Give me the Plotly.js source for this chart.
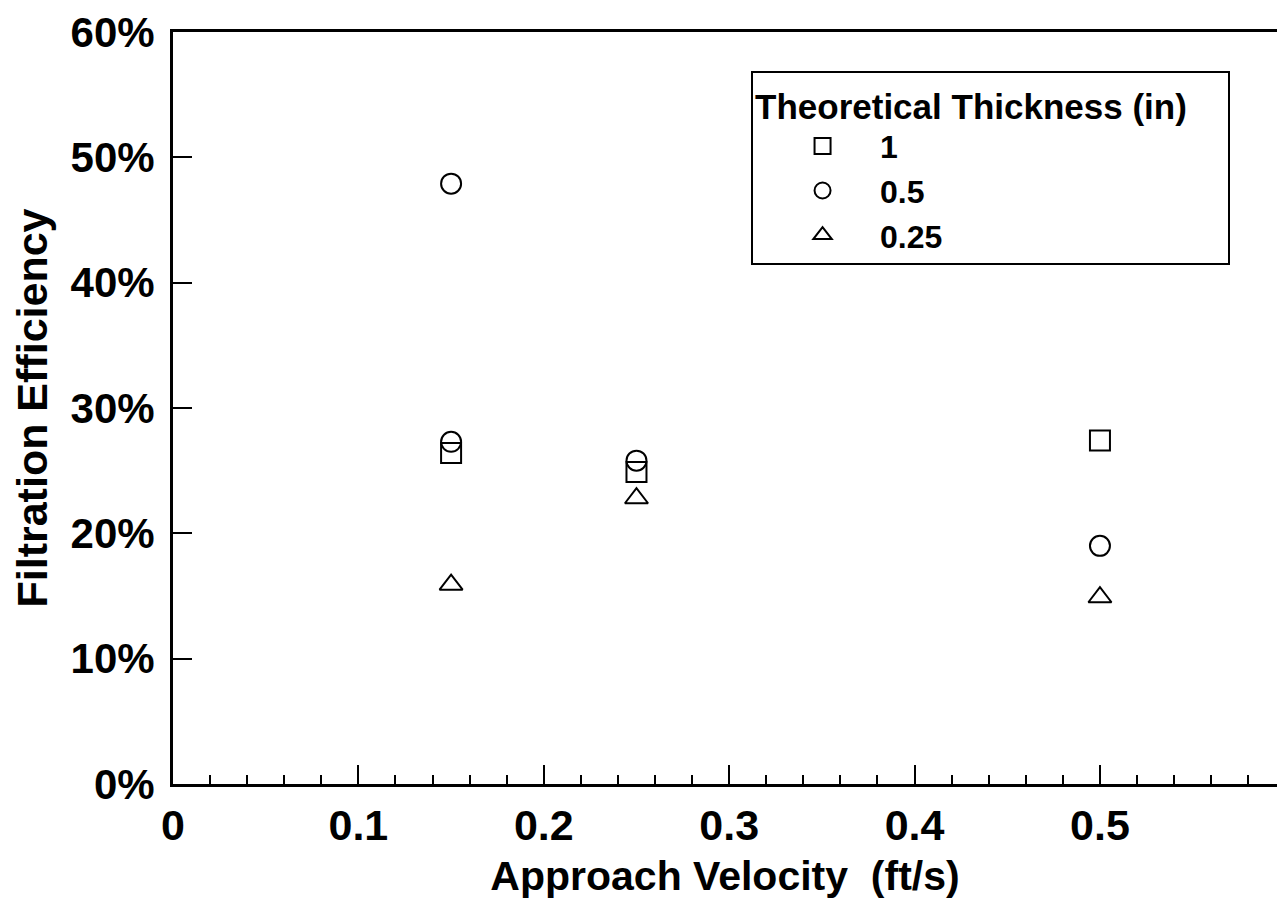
<!DOCTYPE html>
<html>
<head>
<meta charset="utf-8">
<script src="https://cdn.plot.ly/plotly-3.0.1.min.js"></script>
<style>html,body{margin:0;padding:0;background:#fff;}#chart{width:1277px;height:905px;}</style>
</head>
<body>
<div id="chart"></div>
<script>
// Approach velocity (ft/s) and filtration efficiency (%) per theoretical thickness
const legendTitle = "Theoretical Thickness (in)";
const seriesNames = ["1", "0.5", "0.25"];
const vel_1 = [0.15, 0.25, 0.5];
const eff_1 = [26.4, 24.9, 27.4];
const vel_05 = [0.15, 0.15, 0.25, 0.5];
const eff_05 = [47.9, 27.3, 25.8, 19.0];
const vel_025 = [0.15, 0.25, 0.5];
const eff_025 = [15.9, 22.8, 14.9];
const xTitle = "Approach Velocity  (ft/s)";
const yTitle = "Filtration Efficiency";

const FONT = "Liberation Sans, Arial, Helvetica, sans-serif";
const symbols = ["square-open", "circle-open", "triangle-up-open"];
const xs = [vel_1, vel_05, vel_025];
const ys = [eff_1, eff_05, eff_025];

const traces = seriesNames.map((name, i) => ({
  type: "scatter",
  mode: "markers",
  name: name,
  x: xs[i],
  y: ys[i],
  marker: {symbol: symbols[i], size: 20, color: "black", line: {color: "black", width: 2}}
}));

const layout = {
  width: 1277, height: 905,
  margin: {l: 173, r: 0, t: 32, b: 121},
  paper_bgcolor: "white", plot_bgcolor: "white",
  font: {family: FONT, color: "black", weight: "bold"},
  showlegend: true,
  legend: {
    x: 0.5236, y: 0.948, xanchor: "left", yanchor: "top",
    bgcolor: "white", bordercolor: "black", borderwidth: 2,
    font: {family: FONT, size: 32, color: "black", weight: "bold"},
    title: {text: legendTitle + "&nbsp;&nbsp;&nbsp;&nbsp;", font: {family: FONT, size: 35, color: "black", weight: "bold"}},
    indentation: 12,
    itemwidth: 105,
    tracegroupgap: 0
  },
  xaxis: {
    range: [0, 0.5955],
    tickmode: "linear", tick0: 0, dtick: 0.1,
    ticks: "inside", ticklen: 19, tickwidth: 2, tickcolor: "black",
    minor: {dtick: 0.02, ticks: "inside", ticklen: 9, tickwidth: 2, tickcolor: "black", showgrid: false},
    showline: true, linewidth: 3, linecolor: "black", mirror: true,
    showgrid: false, zeroline: false,
    tickfont: {family: FONT, size: 43, color: "black", weight: "bold"},
    ticklabelstandoff: 1,
    title: {text: xTitle, font: {family: FONT, size: 41, color: "black", weight: "bold"}, standoff: 14}
  },
  yaxis: {
    range: [0, 60],
    tickmode: "linear", tick0: 0, dtick: 10, ticksuffix: "%",
    ticks: "inside", ticklen: 19, tickwidth: 2, tickcolor: "black",
    showline: true, linewidth: 3, linecolor: "black", mirror: false,
    showgrid: false, zeroline: false,
    tickfont: {family: FONT, size: 42, color: "black", weight: "bold"},
    ticklabelstandoff: 7,
    title: {text: yTitle, font: {family: FONT, size: 43, color: "black", weight: "bold"}, standoff: 10}
  }
};

Plotly.newPlot("chart", traces, layout, {displayModeBar: false, staticPlot: true});
</script>
</body>
</html>
